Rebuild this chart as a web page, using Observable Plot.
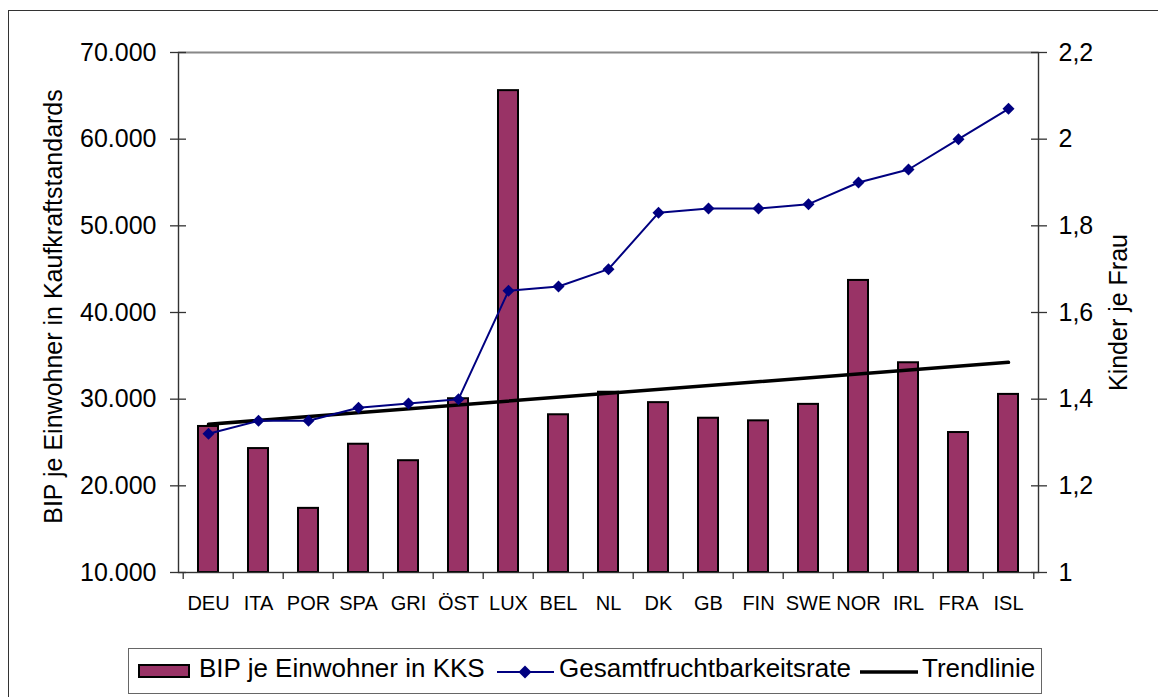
<!DOCTYPE html>
<html><head><meta charset="utf-8">
<script src="https://cdn.jsdelivr.net/npm/d3@7"></script>
<script src="https://cdn.jsdelivr.net/npm/@observablehq/plot@0.6"></script>
<style>
body{margin:0;background:#fff;font-family:"Liberation Sans",Arial,sans-serif;}
#wrap{position:relative;width:1158px;height:697px;overflow:hidden;background:#fff}
#border{position:absolute;left:8px;top:10px;width:1170px;height:720px;border:1.5px solid #333;box-sizing:border-box}
.layer{position:absolute;left:0;top:0}
#legend{position:absolute;left:128px;top:648px;width:914px;height:46px;border:1px solid #666;box-sizing:border-box;background:#fff}
.lt{position:absolute;top:648px;height:40px;line-height:40px;font-size:26px;color:#000;white-space:nowrap}
.sw{position:absolute}
</style></head><body><div id="wrap"><div id="border"></div><div id="legend"></div></div>
<script>
const countries = ["DEU","ITA","POR","SPA","GRI","ÖST","LUX","BEL","NL","DK","GB","FIN","SWE","NOR","IRL","FRA","ISL"];
const gdp = [26850, 24300, 17400, 24800, 22900, 30050, 65600, 28200, 30800, 29600, 27800, 27500, 29400, 43700, 34200, 26150, 30550];
const fertility = [1.32, 1.35, 1.35, 1.38, 1.39, 1.40, 1.65, 1.66, 1.70, 1.83, 1.84, 1.84, 1.85, 1.90, 1.93, 2.00, 2.07];
const trendCountries = ["DEU", "ISL"];
const trendValues = [27100, 34250];
const gdpTicks = [10000, 20000, 30000, 40000, 50000, 60000, 70000];
const fertTicks = [1, 1.2, 1.4, 1.6, 1.8, 2, 2.2];
const seriesNames = ["BIP je Einwohner in KKS", "Gesamtfruchtbarkeitsrate", "Trendlinie"];
const yLabelLeft = "BIP je Einwohner in Kaufkraftstandards";
const yLabelRight = "Kinder je Frau";

const BAR = "#993366", LINE = "#000080", TREND = "#000000", AXIS = "#333333";
const W = 1158, H = 620, mL = 178, mR = 120, mT = 52, mB = 48;
const step = (W - mL - mR) / countries.length;
const font = '"Liberation Sans", Arial, sans-serif';
const de = d3.formatLocale({decimal: ",", thousands: ".", grouping: [3], currency: ["", "€"]});

const rows = countries.map((c, i) => ({c, gdp: gdp[i], fert: fertility[i]}));
const trendRows = trendCountries.map((c, i) => ({c, v: trendValues[i]}));

const xOpts = {type: "band", domain: countries, paddingInner: 0.6, paddingOuter: 0.3};
const common = {width: W, height: H, marginLeft: mL, marginRight: mR, marginTop: mT, marginBottom: mB,
  style: {fontFamily: font, background: "transparent", color: "#000", overflow: "visible"}};

const p1 = Plot.plot({
  ...common,
  x: {...xOpts},
  y: {domain: [gdpTicks[0], gdpTicks[gdpTicks.length - 1]]},
  marks: [
    Plot.barY(rows, {x: "c", y1: gdpTicks[0], y2: "gdp", fill: BAR, stroke: "#000", strokeWidth: 2}),
    Plot.frame({stroke: AXIS, strokeWidth: 1.4}),
    Plot.ruleY([gdpTicks[gdpTicks.length - 1]], {stroke: "#888", strokeWidth: 1.6}),
    Plot.line(trendRows, {x: "c", y: "v", stroke: TREND, strokeWidth: 3.5}),
    Plot.axisY(gdpTicks, {anchor: "left", tickSize: 16, dx: 8, tickPadding: 14, tickFormat: de.format(",d"),
      fontSize: 25, label: null, stroke: AXIS, fill: "#000", strokeWidth: 1.3}),
    Plot.axisX({text: null, tickSize: 7, dx: -step / 2, label: null, stroke: AXIS, strokeWidth: 1.3}),
    Plot.axisX([countries[countries.length - 1]], {text: null, tickSize: 7, dx: step / 2, label: null, stroke: AXIS, strokeWidth: 1.3}),
    Plot.axisX({tickSize: 0, tickPadding: 23, fontSize: 20, label: null, fill: "#000"}),
    Plot.text([yLabelLeft], {text: d => d, frameAnchor: "left", textAnchor: "middle", lineAnchor: "middle", rotate: -90, dx: -125, dy: -6, fontSize: 25, fill: "#000"})
  ]
});
p1.classList.add("layer");

const p2 = Plot.plot({
  ...common,
  x: {...xOpts, axis: null},
  y: {domain: [fertTicks[0], fertTicks[fertTicks.length - 1]]},
  marks: [
    Plot.line(rows, {x: "c", y: "fert", stroke: LINE, strokeWidth: 2}),
    Plot.dot(rows, {x: "c", y: "fert", symbol: "diamond2", r: 5.4, fill: LINE}),
    Plot.axisY(fertTicks, {anchor: "right", tickSize: 16, dx: -8, tickPadding: 12, tickFormat: de.format("~g"),
      fontSize: 25, label: null, stroke: AXIS, fill: "#000", strokeWidth: 1.3}),
    Plot.text([yLabelRight], {text: d => d, frameAnchor: "right", textAnchor: "middle", lineAnchor: "middle", rotate: -90, dx: 80, fontSize: 25, fill: "#000"})
  ]
});
p2.classList.add("layer");

const wrap = document.getElementById("wrap");
wrap.insertBefore(p1, document.getElementById("legend"));
wrap.insertBefore(p2, document.getElementById("legend"));

// Legend
function el(html) { const t = document.createElement("div"); t.innerHTML = html; return t.firstElementChild; }
wrap.appendChild(el(`<div class="sw" style="left:138px;top:664px;width:52px;height:14px;background:${BAR};border:2px solid #000;box-sizing:border-box"></div>`));
wrap.appendChild(el(`<div class="lt" style="left:199px">${seriesNames[0]}</div>`));
wrap.appendChild(el(`<svg class="sw" style="left:497px;top:662px" width="57" height="20"><line x1="0" x2="57" y1="10" y2="10" stroke="${LINE}" stroke-width="2"/><path d="M28,3.5L34.5,10L28,16.5L21.5,10Z" fill="${LINE}"/></svg>`));
wrap.appendChild(el(`<div class="lt" style="left:559px">${seriesNames[1]}</div>`));
wrap.appendChild(el(`<svg class="sw" style="left:860px;top:662px" width="58" height="20"><line x1="0" x2="58" y1="10" y2="10" stroke="${TREND}" stroke-width="3.5"/></svg>`));
wrap.appendChild(el(`<div class="lt" style="left:922px">${seriesNames[2]}</div>`));
</script>
</body></html>
